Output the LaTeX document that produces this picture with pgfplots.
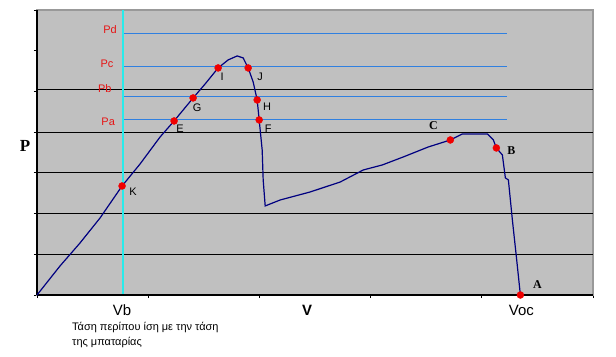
\documentclass[border=0pt]{standalone}
\usepackage{fontspec}
\setmainfont{Liberation Sans}
\newfontfamily\serifb{Liberation Serif}
\usepackage{pgfplots}
\pgfplotsset{compat=1.18}
\definecolor{bg}{RGB}{192,192,192}
\definecolor{navy}{RGB}{0,0,128}
\definecolor{bl}{RGB}{48,128,224}
\definecolor{cy}{RGB}{40,235,235}
\definecolor{rd}{RGB}{240,0,0}
\definecolor{lbl}{RGB}{230,20,20}
\begin{document}
\begin{tikzpicture}
\begin{axis}[
  at={(0,0)}, anchor=south west,
  scale only axis, width=556bp, height=285bp,
  xmin=0, xmax=5, ymin=0, ymax=7,
  xtick={0,...,5}, ytick={0,...,7},
  xticklabels={}, yticklabels={},
  xtick pos=bottom, ytick pos=left,
  tick align=outside, major tick length=3bp,
  tick style={black, line width=0.8bp},
  axis background/.style={fill=bg},
  axis line style={draw=gray!80, line width=1.5bp},
  clip=false,
]
% grid lines
\addplot[black, line width=0.8bp] coordinates {(0,1) (5,1)};
\addplot[black, line width=0.8bp] coordinates {(0,2) (5,2)};
\addplot[black, line width=0.8bp] coordinates {(0,3) (5,3)};
\addplot[black, line width=0.8bp] coordinates {(0,4) (5,4)};
\addplot[black, line width=0.8bp] coordinates {(0,5.04) (5,5.04)};
% P levels
\addplot[bl, line width=0.9bp] coordinates {(0.774,6.413) (4.23,6.413)};
\addplot[bl, line width=0.9bp] coordinates {(0.774,5.602) (4.23,5.602)};
\addplot[bl, line width=0.9bp] coordinates {(0.774,4.865) (4.23,4.865)};
\addplot[bl, line width=0.9bp] coordinates {(0.774,4.300) (4.23,4.300)};
% Vb
\addplot[cy, line width=1.5bp] coordinates {(0.774,0) (0.774,7)};
% axes left/bottom
\addplot[black, line width=2bp] coordinates {(0,0) (0,7)};
\addplot[black, line width=1.2bp] coordinates {(0,0) (5,0)};
% P-V curve
\addplot[navy, line width=1.2bp] coordinates {
(0,0) (0.207,0.713) (0.387,1.278) (0.567,1.892) (0.765,2.678) (0.927,3.219)
(1.107,3.882) (1.233,4.275) (1.404,4.840) (1.512,5.184) (1.629,5.577)
(1.719,5.774) (1.800,5.872) (1.854,5.823) (1.899,5.577) (1.944,5.233)
(1.980,4.791) (1.998,4.300) (2.025,3.563) (2.034,2.826) (2.052,2.187)
(2.187,2.334) (2.457,2.531) (2.727,2.776) (2.934,3.071) (3.105,3.194)
(3.294,3.391) (3.519,3.636) (3.717,3.808) (3.825,3.956) (4.050,3.956)
(4.104,3.808) (4.131,3.612) (4.185,3.440) (4.212,2.875) (4.239,2.826)
(4.275,1.843) (4.311,0.934) (4.347,0)};
% points
\addplot[only marks, mark=*, mark size=3.5bp, rd, mark options={draw=rd, fill=rd}] coordinates {
(0.765,2.678) (1.233,4.275) (1.404,4.840) (1.629,5.577) (1.899,5.577)
(1.980,4.791) (1.998,4.300) (3.717,3.808) (4.131,3.612) (4.347,0)};
% labels
\node[lbl, font=\fontsize{11}{12}\selectfont] at (axis cs:0.657,6.51) {Pd};
\node[lbl, font=\fontsize{11}{12}\selectfont] at (axis cs:0.63,5.68) {Pc};
\node[lbl, font=\fontsize{11}{12}\selectfont] at (axis cs:0.61,5.06) {Pb};
\node[lbl, font=\fontsize{11}{12}\selectfont] at (axis cs:0.64,4.25) {Pa};
\node[font=\fontsize{11}{12}\selectfont] at (axis cs:0.864,2.531) {K};
\node[font=\fontsize{11}{12}\selectfont] at (axis cs:1.287,4.079) {E};
\node[font=\fontsize{11}{12}\selectfont] at (axis cs:1.440,4.595) {G};
\node[font=\fontsize{11}{12}\selectfont] at (axis cs:1.665,5.356) {I};
\node[font=\fontsize{11}{12}\selectfont] at (axis cs:2.007,5.356) {J};
\node[font=\fontsize{11}{12}\selectfont] at (axis cs:2.070,4.619) {H};
\node[font=\fontsize{11}{12}\selectfont] at (axis cs:2.079,4.079) {F};
\node[font=\serifb\bfseries\fontsize{12}{13}\selectfont] at (axis cs:3.564,4.152) {C};
\node[font=\serifb\bfseries\fontsize{12}{13}\selectfont] at (axis cs:4.266,3.538) {B};
\node[font=\serifb\bfseries\fontsize{12}{13}\selectfont] at (axis cs:4.500,0.246) {A};
\node[font=\serifb\bfseries\fontsize{17}{18}\selectfont] at (axis cs:-0.108,3.66) {P};
\node[font=\fontsize{15}{16}\selectfont] at (axis cs:0.765,-0.369) {Vb};
\node[font=\bfseries\fontsize{15}{16}\selectfont] at (axis cs:2.430,-0.369) {V};
\node[font=\fontsize{15}{16}\selectfont] at (axis cs:4.356,-0.369) {Voc};
\node[anchor=north west, align=left, inner sep=0pt, font=\fontsize{11}{15}\selectfont] at (axis cs:0.315,-0.66) {Τάση περίπου ίση με την τάση\\της μπαταρίας};
\end{axis}
\pgfresetboundingbox
\path[use as bounding box] (-37bp,-62bp) rectangle (579bp,295bp);
\end{tikzpicture}
\end{document}
